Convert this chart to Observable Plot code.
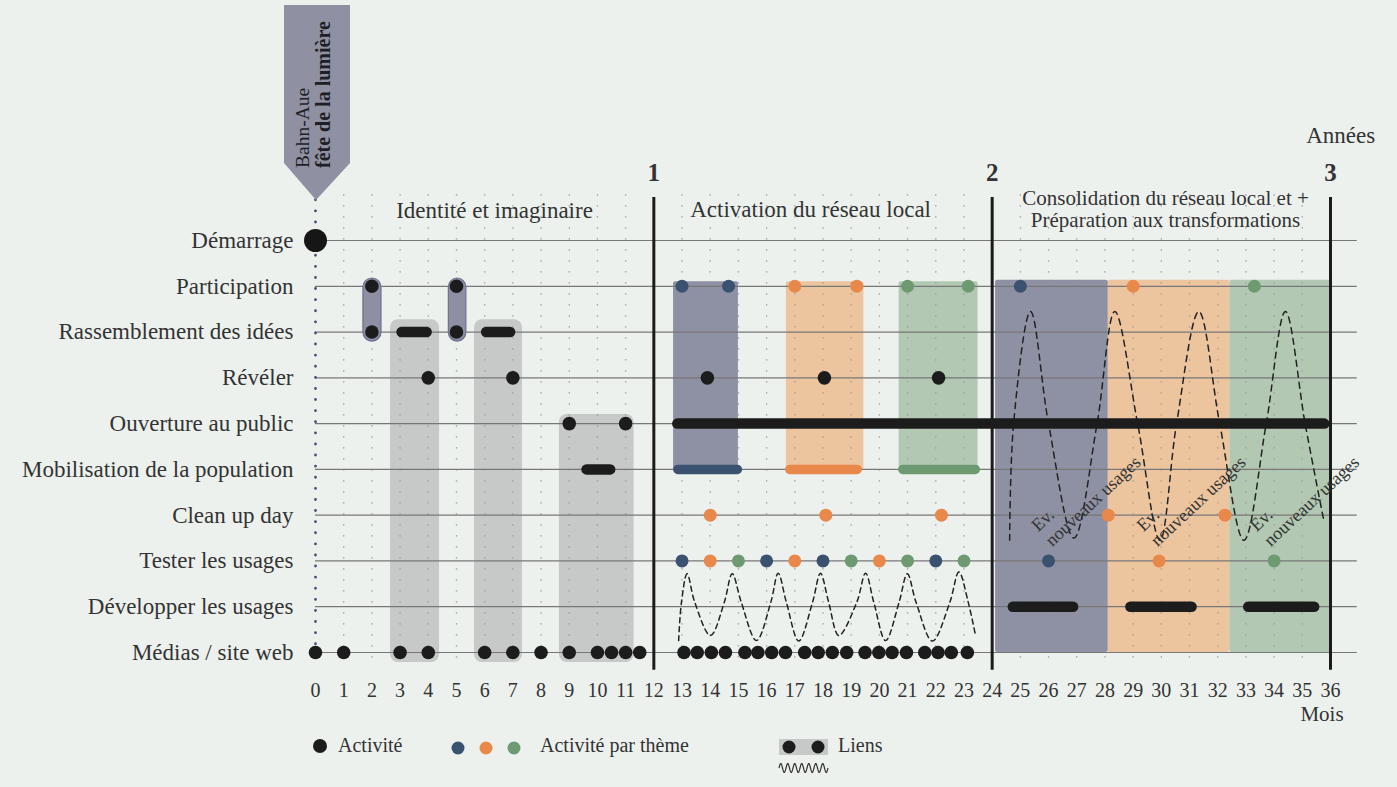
<!DOCTYPE html>
<html><head><meta charset="utf-8">
<script src="https://cdn.jsdelivr.net/npm/d3@7"></script>
<script src="https://cdn.jsdelivr.net/npm/@observablehq/plot@0.6"></script>
<style>
html,body{margin:0;padding:0;background:#edf1ee;}
#wrap{position:relative;width:1397px;height:787px;font-family:"Liberation Serif",serif;color:#333;overflow:hidden;}
#banner{position:absolute;left:0;top:0;}
#legend{position:absolute;left:0;top:725px;}
</style></head>
<body><div id="wrap"><div id="chart"></div></div>
<script>
// ---------- data ----------
const rows = ["Démarrage","Participation","Rassemblement des idées","Révéler","Ouverture au public","Mobilisation de la population","Clean up day","Tester les usages","Développer les usages","Médias / site web"];
const monthTicks = d3.range(0, 37);
const yearMonths = [12, 24, 36];
const yearLabels = ["1", "2", "3"];
const phaseTitles = ["Identité et imaginaire", "Activation du réseau local", "Consolidation du réseau local et +\nPréparation aux transformations"];
const phaseCenters = [6.35, 17.56, 30.15];
const phaseRows = [-0.66, -0.68, -0.68];
const phaseSizes = [23, 23, 21];
const bannerLines = ["Bahn-Aue", "fête de la lumière"];

const startDot = [{m: 0, row: "Démarrage"}];
const blackDots = [
  ...[2, 5].map(m => ({m, row: "Participation"})),
  ...[2, 5].map(m => ({m, row: "Rassemblement des idées"})),
  ...[4, 7, 13.9, 18.05, 22.1].map(m => ({m, row: "Révéler"})),
  ...[9, 11].map(m => ({m, row: "Ouverture au public"})),
  ...[0, 1, 3, 4, 6, 7, 8, 9, 10, 10.5, 11, 11.5,
      13.07, 13.54, 14.04, 14.54, 15.23, 15.69, 16.18, 16.67, 17.35, 17.83, 18.33, 18.84,
      19.49, 19.98, 20.45, 20.96, 21.61, 22.08, 22.55, 23.12].map(m => ({m, row: "Médias / site web"}))
];
const themeDots = [
  {m: 13, row: "Participation", t: "bleu"}, {m: 14.65, row: "Participation", t: "bleu"},
  {m: 17, row: "Participation", t: "orange"}, {m: 19.2, row: "Participation", t: "orange"},
  {m: 21, row: "Participation", t: "vert"}, {m: 23.15, row: "Participation", t: "vert"},
  {m: 25, row: "Participation", t: "bleu"}, {m: 29, row: "Participation", t: "orange"}, {m: 33.3, row: "Participation", t: "vert"},
  {m: 14, row: "Clean up day", t: "orange"}, {m: 18.1, row: "Clean up day", t: "orange"}, {m: 22.2, row: "Clean up day", t: "orange"},
  {m: 28.12, row: "Clean up day", t: "orange"}, {m: 32.26, row: "Clean up day", t: "orange"},
  {m: 13, row: "Tester les usages", t: "bleu"}, {m: 14, row: "Tester les usages", t: "orange"}, {m: 15, row: "Tester les usages", t: "vert"},
  {m: 16, row: "Tester les usages", t: "bleu"}, {m: 17, row: "Tester les usages", t: "orange"}, {m: 18, row: "Tester les usages", t: "bleu"},
  {m: 19, row: "Tester les usages", t: "vert"}, {m: 20, row: "Tester les usages", t: "orange"}, {m: 21, row: "Tester les usages", t: "vert"},
  {m: 22, row: "Tester les usages", t: "bleu"}, {m: 23, row: "Tester les usages", t: "vert"},
  {m: 26, row: "Tester les usages", t: "bleu"}, {m: 29.92, row: "Tester les usages", t: "orange"}, {m: 34, row: "Tester les usages", t: "vert"}
];
const blackBars = [
  {m1: 3.07, m2: 3.96, row: "Rassemblement des idées"}, {m1: 6.07, m2: 6.92, row: "Rassemblement des idées"},
  {m1: 9.63, m2: 10.47, row: "Mobilisation de la population"},
  {m1: 12.85, m2: 35.8, row: "Ouverture au public"},
  {m1: 24.75, m2: 26.89, row: "Développer les usages"}, {m1: 28.92, m2: 31.09, row: "Développer les usages"}, {m1: 33.1, m2: 35.44, row: "Développer les usages"}
];
const themeBars = [
  {m1: 12.87, m2: 14.98, row: "Mobilisation de la population", t: "bleu"},
  {m1: 16.84, m2: 19.23, row: "Mobilisation de la population", t: "orange"},
  {m1: 20.85, m2: 23.42, row: "Mobilisation de la population", t: "vert"}
];
// link blocks (grey), in months and row units
const linkBlocks = [
  {m1: 2.66, m2: 4.4, r1: 1.73, r2: 9.22}, {m1: 5.64, m2: 7.34, r1: 1.73, r2: 9.22}, {m1: 8.65, m2: 11.3, r1: 3.8, r2: 9.22}
];
const pills = [{m1: 1.70, m2: 2.34, r1: 0.83, r2: 2.21}, {m1: 4.73, m2: 5.35, r1: 0.83, r2: 2.21}];
const themeBlocks = [
  {m1: 12.7, m2: 15.0, r1: 0.9, r2: 5.02, t: "bleu"}, {m1: 16.7, m2: 19.45, r1: 0.9, r2: 5.02, t: "orange"}, {m1: 20.7, m2: 23.5, r1: 0.9, r2: 5.02, t: "vert"},
  {m1: 24.12, m2: 28.12, r1: 0.87, r2: 9.0, t: "bleu"}, {m1: 28.12, m2: 32.43, r1: 0.87, r2: 9.0, t: "orange"}, {m1: 32.43, m2: 36.0, r1: 0.87, r2: 9.0, t: "vert"}
];
// dashed waves (month, row position)
const waveMidM = [12.88, 12.98, 13.18, 13.45, 14.01, 14.5, 14.78, 15.1, 15.64, 16.15, 16.41, 16.7, 17.14, 17.63, 17.91, 18.2, 18.56, 19.2, 19.51, 19.8, 20.22, 20.7, 20.99, 21.3, 21.88, 22.5, 22.82, 23.15, 23.41];
const waveMidR = [8.74, 7.9, 7.28, 7.9, 8.63, 7.9, 7.28, 7.9, 8.74, 7.9, 7.27, 7.9, 8.75, 7.9, 7.27, 7.9, 8.63, 7.9, 7.27, 7.9, 8.74, 7.9, 7.28, 7.9, 8.75, 7.9, 7.24, 7.9, 8.63];
const waveBigM = [24.62, 24.76, 25.36, 26.0, 26.9, 27.72, 28.35, 29.16, 29.95, 30.54, 31.33, 32.07, 32.93, 33.72, 34.4, 35.1, 35.76];
const waveBigR = [6.55, 4.0, 1.55, 4.0, 6.5, 4.0, 1.55, 4.0, 6.55, 4.0, 1.55, 4.0, 6.55, 4.0, 1.55, 4.0, 6.11];
const evLabelM = [26.13, 29.86, 33.88];
const evLabelR = 6.70;

const themeColor = {bleu: "#3b5170", orange: "#e8884a", vert: "#6e9a72"};
const blockColor = {bleu: "#8e91a3", orange: "#ecc59f", vert: "#b2c8b2"};
const R = name => rows.indexOf(name);
const rowEnd = 36.95;

const gridMonths = monthTicks.filter(m => m > 0 && !yearMonths.includes(m));
const textStyle = {fill: "#333", fontFamily: "Liberation Serif, serif"};

const chart = Plot.plot({
  width: 1397, height: 725,
  marginLeft: 315, marginRight: 67, marginTop: 240, marginBottom: 73,
  x: {domain: [0, 36]},
  y: {domain: [0, 9], range: [240, 652]},
  style: {background: "transparent", fontFamily: "Liberation Serif, serif", color: "#333"},
  marks: [
    Plot.rect(linkBlocks, {x1: "m1", x2: "m2", y1: "r1", y2: "r2", fill: "#c6c9c7", rx: 8}),
    Plot.rect(themeBlocks, {x1: "m1", x2: "m2", y1: "r1", y2: "r2", fill: d => blockColor[d.t], rx: 2}),
    Plot.ruleX(gridMonths, {x: d => d, y1: -1.0, y2: 9.22, stroke: "#999", strokeWidth: 1.4, strokeDasharray: "1.4,9.6"}),
    Plot.ruleY(d3.range(rows.length), {y: d => d, x1: 0, x2: rowEnd, stroke: "#777", strokeWidth: 1.2}),
    Plot.ruleX([0], {y1: -0.88, y2: 9.25, stroke: "#474f72", strokeWidth: 2.8, strokeDasharray: "0.1,11", strokeLinecap: "round"}),
    Plot.ruleX(yearMonths, {x: d => d, y1: -0.94, y2: 9.39, stroke: "#1b1b1b", strokeWidth: 3}),
    Plot.line(waveMidM.map((m, i) => ({m, r: waveMidR[i]})), {x: "m", y: "r", curve: "catmull-rom", stroke: "#222", strokeWidth: 1.5, strokeDasharray: "5,4"}),
    Plot.line(waveBigM.map((m, i) => ({m, r: waveBigR[i]})), {x: "m", y: "r", curve: "catmull-rom", stroke: "#222", strokeWidth: 1.5, strokeDasharray: "6,5"}),
    Plot.ruleY(blackBars, {x1: "m1", x2: "m2", y: d => R(d.row), stroke: "#1c1c1c", strokeWidth: 10.5, strokeLinecap: "round"}),
    Plot.ruleY(themeBars, {x1: "m1", x2: "m2", y: d => R(d.row), stroke: d => themeColor[d.t], strokeWidth: 9.5, strokeLinecap: "round"}),
    Plot.rect(pills, {x1: "m1", x2: "m2", y1: "r1", y2: "r2", fill: "#8e8fa3", stroke: "#6d7090", strokeWidth: 1.2, rx: 9}),
    Plot.dot(startDot, {x: "m", y: d => R(d.row), r: 11.5, fill: "#161616"}),
    Plot.dot(blackDots, {x: "m", y: d => R(d.row), r: 6.8, fill: "#1c1c1c"}),
    Plot.dot(themeDots, {x: "m", y: d => R(d.row), r: 6.5, fill: d => themeColor[d.t]}),
    Plot.text(evLabelM, {x: d => d, y: evLabelR, text: () => "Ev.\nnouveaux usages", rotate: -43, textAnchor: "start", lineAnchor: "bottom", lineHeight: 1.14, fontSize: 18, ...textStyle}),
    Plot.text(phaseTitles, {x: (d, i) => phaseCenters[i], y: (d, i) => phaseRows[i], text: d => d, fontSize: (d, i) => phaseSizes[i], lineHeight: 1.05, ...textStyle}),
    Plot.text(yearLabels, {x: (d, i) => yearMonths[i], y: -1.48, text: d => d, fontSize: 25, fontWeight: "bold", ...textStyle}),
    Plot.text(["Années"], {x: 36.36, y: -2.29, text: d => d, fontSize: 23, ...textStyle}),
    Plot.text(["Mois"], {x: 35.7, y: 10.36, text: d => d, fontSize: 21, ...textStyle}),
    Plot.axisX({ticks: monthTicks, tickSize: 0, tickPadding: 30, fontSize: 20, label: null, tickFormat: d => String(d)}),
    Plot.axisY({ticks: d3.range(rows.length), tickSize: 0, tickPadding: 22, fontSize: 23, label: null, tickFormat: i => rows[i]})
  ]
});
chart.style.display = "block";
document.getElementById("chart").appendChild(chart);

// ---------- banner (annotation above month 0) ----------
const bn = d3.select("#wrap").append("svg").attr("id", "banner").attr("width", 400).attr("height", 210)
  .style("font-family", "Liberation Serif, serif");
bn.append("path").attr("d", "M284,5H350V163L316,200L284,163Z").attr("fill", "#8f90a1");
bn.selectAll("text").data(bannerLines).join("text")
  .attr("transform", (d, i) => `translate(${[309, 330][i]},168) rotate(-90)`)
  .attr("font-size", (d, i) => i ? 20 : 19.5)
  .attr("font-weight", (d, i) => i ? "bold" : "normal")
  .attr("fill", "#1e1e26")
  .text(d => d);

// ---------- legend (below the chart) ----------
const legendDots = [{c: "#1c1c1c", x: 320}];
const legendThemes = ["bleu", "orange", "vert"];
const legendThemeX = [458, 486, 514];
const lg = d3.select("#wrap").append("svg").attr("id", "legend").attr("width", 1397).attr("height", 62)
  .style("font-family", "Liberation Serif, serif").style("font-size", "20px");
lg.selectAll("circle.a").data(legendDots).join("circle").attr("cx", d => d.x).attr("cy", 21).attr("r", 7).attr("fill", d => d.c);
lg.append("text").attr("x", 338).attr("y", 21).attr("dy", "0.32em").attr("fill", "#333").text("Activité");
lg.selectAll("circle.t").data(legendThemes).join("circle").attr("cx", (d, i) => legendThemeX[i]).attr("cy", 23).attr("r", 6.5).attr("fill", d => themeColor[d]);
lg.append("text").attr("x", 540).attr("y", 21).attr("dy", "0.32em").attr("fill", "#333").text("Activité par thème");
lg.append("rect").attr("x", 779).attr("y", 14).attr("width", 49).attr("height", 16).attr("fill", "#c6c9c7");
lg.selectAll("circle.l").data([789, 818]).join("circle").attr("cx", d => d).attr("cy", 22).attr("r", 6.5).attr("fill", "#1c1c1c");
lg.append("text").attr("x", 838).attr("y", 21).attr("dy", "0.32em").attr("fill", "#333").text("Liens");
const wx = d3.range(0, 49.5, 0.5);
lg.append("path").attr("d", d3.line()(wx.map(x => [779 + x, 43 - 4.5 * Math.sin(x / 49 * 2 * Math.PI * 7)]))).attr("fill", "none").attr("stroke", "#333").attr("stroke-width", 1.2);
</script>
</body></html>
